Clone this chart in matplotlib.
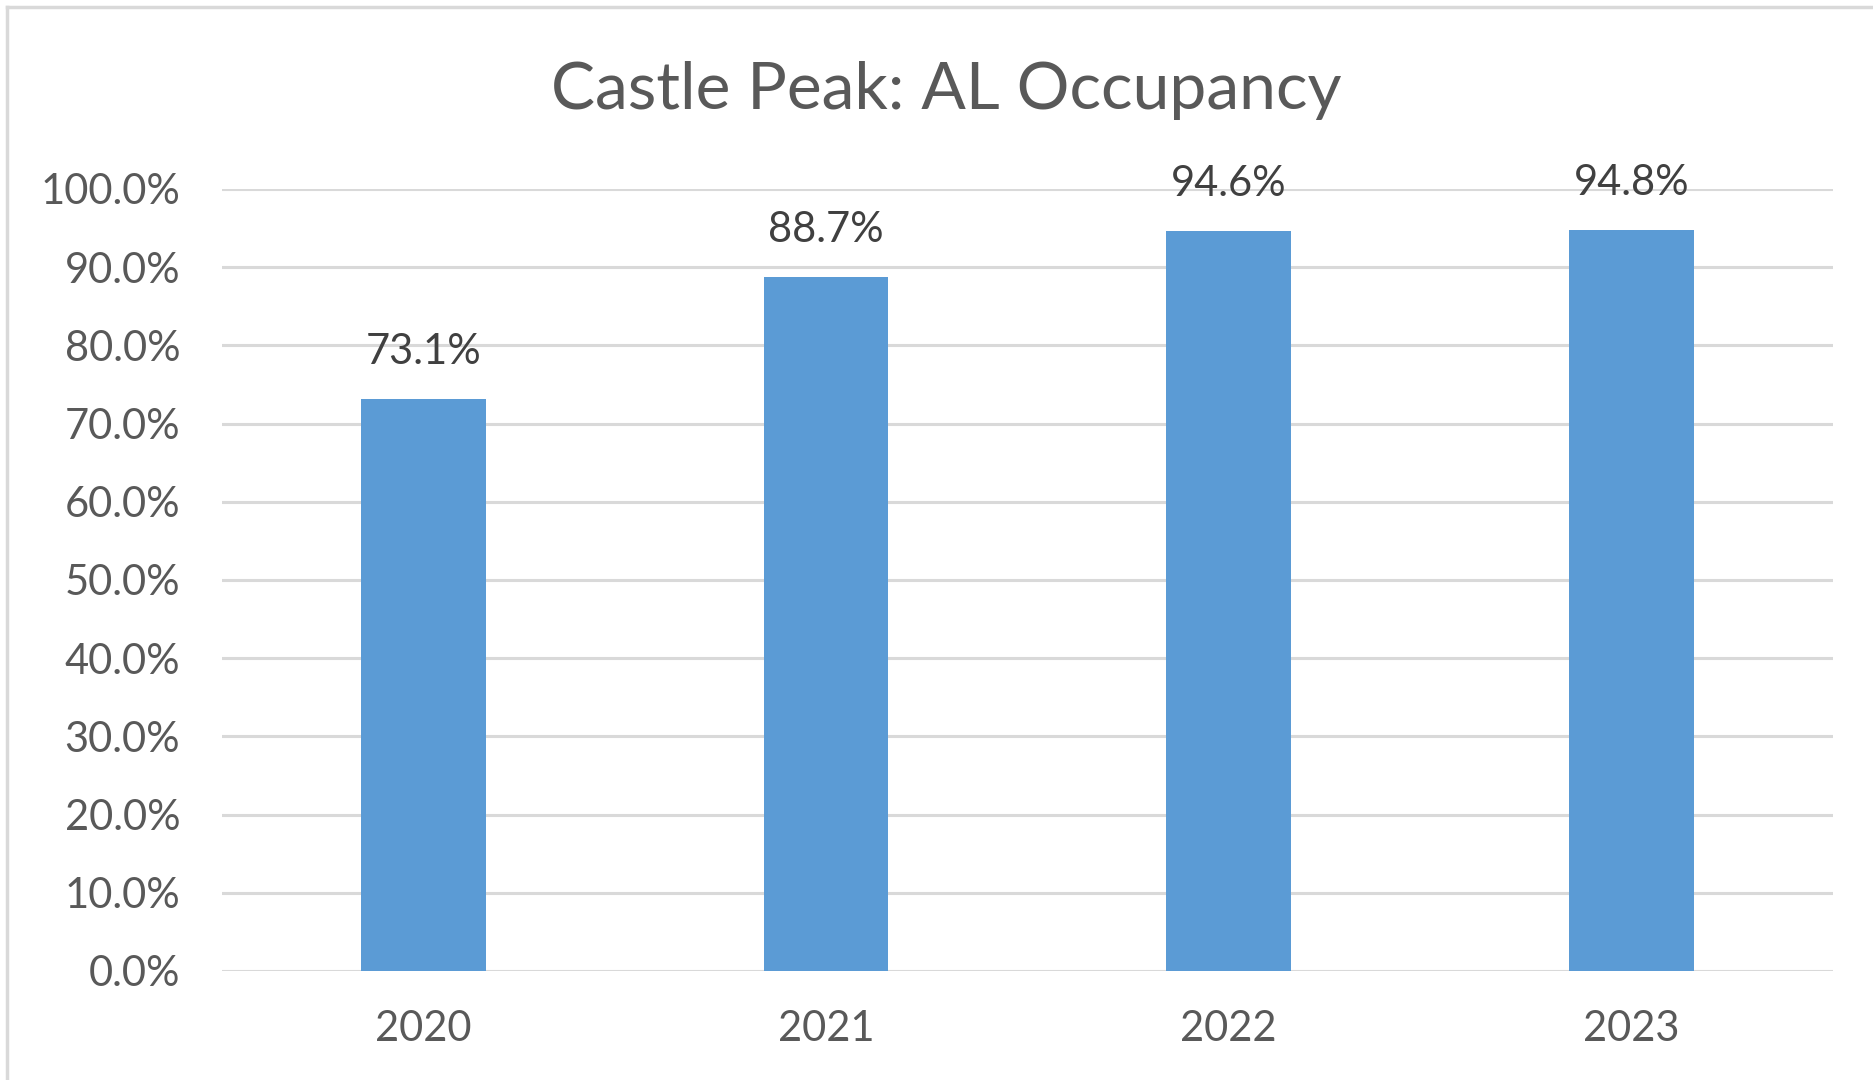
import matplotlib
matplotlib.use("Agg")
import matplotlib.pyplot as plt
from matplotlib.lines import Line2D
import numpy as np

years = ["2020", "2021", "2022", "2023"]
occupancy = [0.731, 0.887, 0.946, 0.948]
yticks = [0.0, 0.1, 0.2, 0.3, 0.4, 0.5, 0.6, 0.7, 0.8, 0.9, 1.0]

plt.rcParams['font.family'] = ['Lato', 'DejaVu Sans']

fig = plt.figure(figsize=(18.73, 10.80), dpi=100)
ax = fig.add_axes([0.1185, 0.1010, 0.86, 0.724])

x = np.arange(len(years))
ax.bar(x, occupancy, width=0.31, color="#5b9bd5", zorder=3)

for xi, v in zip(x, occupancy):
    ax.text(xi, v + 0.036, "%.1f%%" % (v * 100), ha="center", va="bottom",
            fontsize=30, color="#404040", zorder=4)

ax.set_xlim(-0.5, 3.5)
ax.set_ylim(0, 1.0)
ax.set_yticks(yticks)
ax.set_yticklabels(["%.1f%%" % (t * 100) for t in yticks])
ax.set_xticks(x)
ax.set_xticklabels(years)
ax.tick_params(axis="both", length=0, labelsize=30, labelcolor="#595959")
ax.tick_params(axis="y", pad=30)
ax.tick_params(axis="x", pad=28)
ax.yaxis.grid(True, color="#d9d9d9", linewidth=2.2, zorder=0)
ax.set_axisbelow(True)
for s in ax.spines.values():
    s.set_visible(False)

fig.text(0.505, 0.916, "Castle Peak: AL Occupancy", ha="center", va="center",
         fontsize=47.5, color="#595959")

# outer frame (only left and top edges visible, rest cropped)
fig.add_artist(Line2D([0.0037, 0.0037], [0.0, 0.9935], color="#d9d9d9", linewidth=2.5, transform=fig.transFigure))
fig.add_artist(Line2D([0.0037, 1.0], [0.9935, 0.9935], color="#d9d9d9", linewidth=2.5, transform=fig.transFigure))

fig.savefig("out.png", dpi=100)
